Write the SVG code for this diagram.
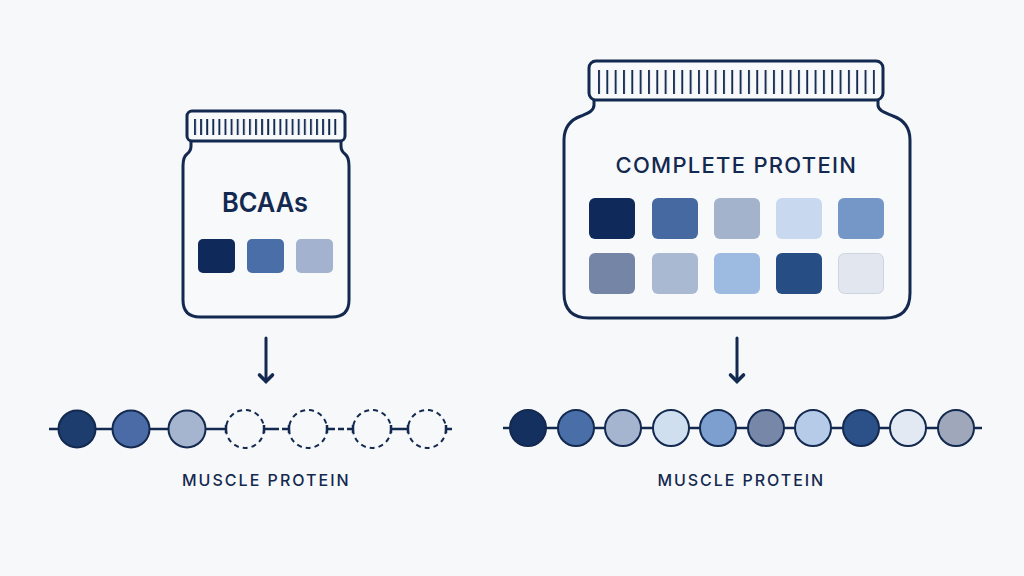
<svg xmlns="http://www.w3.org/2000/svg" width="1024" height="576" viewBox="0 0 1024 576">
<defs>
<style>
.bg{fill:#f7f8fa}
.jar{fill:#f8f9fb;stroke:#13294f;stroke-width:3;stroke-linejoin:round}
.lid{fill:#f8f9fb;stroke:#13294f;stroke-width:3}
.tick{stroke:#13294f;stroke-width:1.9}
.lbl{font-family:Inter,"Noto Sans","Liberation Sans",sans-serif;fill:#13294f}
.chain{stroke:#13294f;stroke-width:2.5;fill:none}
.bead{stroke:#13294f;stroke-width:2}
.ghost{fill:none;stroke:#13294f;stroke-width:2;stroke-dasharray:5 4}
.arrow{stroke:#13294f;stroke-width:3;fill:none;stroke-linecap:round;stroke-linejoin:round}
.head{stroke:#13294f;stroke-width:3.6;fill:none;stroke-linecap:round;stroke-linejoin:miter}
</style>
<pattern id="ticksS" x="194" y="0" width="6.1" height="10" patternUnits="userSpaceOnUse"><line x1="1" y1="0" x2="1" y2="10" class="tick"/></pattern>
<pattern id="ticksL" x="598" y="0" width="8.33" height="10" patternUnits="userSpaceOnUse"><line x1="1" y1="0" x2="1" y2="10" class="tick"/></pattern>
</defs>
<rect class="bg" x="0" y="0" width="1024" height="576"/>

<g id="jar-bcaa">
<path class="jar" d="M191,141 V146 Q191,151 187,154 Q183,157 183,166 V300 Q183,317 200,317 H332 Q349,317 349,300 V166 Q349,157 345,154 Q341,151 341,146 V141"/>
<rect class="lid" x="187" y="111" width="158" height="30" rx="5"/>
<rect x="193" y="119" width="146" height="16" fill="url(#ticksS)"/>
<text class="lbl" x="265" y="212" font-size="27" font-weight="600" text-anchor="middle" textLength="86" lengthAdjust="spacingAndGlyphs">BCAAs</text>
<rect x="198" y="239" width="37" height="34" rx="5" fill="#0f2a5a"/>
<rect x="247" y="239" width="37" height="34" rx="5" fill="#4a6fa8"/>
<rect x="296" y="239" width="37" height="34" rx="5" fill="#a3b3cf"/>
</g>

<g id="jar-complete">
<path class="jar" d="M594,100 V105 C594,111 588,113 581,116 C570,120 564,127 564,140 V293 Q564,318 589,318 H885 Q910,318 910,293 V140 C910,127 904,120 893,116 C886,113 878,111 878,105 V100"/>
<rect class="lid" x="589" y="61" width="294" height="39" rx="7"/>
<rect x="597" y="70" width="278" height="24" fill="url(#ticksL)"/>
<text class="lbl" x="736" y="173" font-size="22" font-weight="500" text-anchor="middle" letter-spacing="0.6" textLength="241" lengthAdjust="spacing">COMPLETE PROTEIN</text>
<rect x="589" y="198" width="46" height="41" rx="6" fill="#0f2a5a"/>
<rect x="652" y="198" width="46" height="41" rx="6" fill="#4569a0"/>
<rect x="714" y="198" width="46" height="41" rx="6" fill="#a3b3cc"/>
<rect x="776" y="198" width="46" height="41" rx="6" fill="#c8d9ef"/>
<rect x="838" y="198" width="46" height="41" rx="6" fill="#7597c8"/>
<rect x="589" y="253" width="46" height="41" rx="6" fill="#7585a6"/>
<rect x="652" y="253" width="46" height="41" rx="6" fill="#a9b9d2"/>
<rect x="714" y="253" width="46" height="41" rx="6" fill="#9dbbe0"/>
<rect x="776" y="253" width="46" height="41" rx="6" fill="#264e85"/>
<rect x="838.5" y="253.5" width="45" height="40" rx="6" fill="#e2e7ef" stroke="#cdd4df" stroke-width="1"/>
</g>

<g id="connectors">
<path class="arrow" d="M266,338 V381"/>
<path class="head" d="M259.5,375 L266,381.5 L272.5,375"/>
<path class="arrow" d="M737,338 V381"/>
<path class="head" d="M730.5,375 L737,381.5 L743.5,375"/>
</g>

<g id="chain-bcaa">
<line class="chain" x1="49" y1="429" x2="226" y2="429"/>
<line class="chain" x1="226" y1="425" x2="226" y2="433"/>
<line class="chain" x1="264" y1="429" x2="289" y2="429" stroke-dasharray="15 3 8"/>
<line class="chain" x1="264" y1="425" x2="264" y2="433"/>
<line class="chain" x1="289" y1="425" x2="289" y2="433"/>
<line class="chain" x1="327" y1="429" x2="353" y2="429" stroke-dasharray="8 3 6 3 8"/>
<line class="chain" x1="327" y1="425" x2="327" y2="433"/>
<line class="chain" x1="353" y1="425" x2="353" y2="433"/>
<line class="chain" x1="391" y1="429" x2="408" y2="429"/>
<line class="chain" x1="391" y1="425" x2="391" y2="433"/>
<line class="chain" x1="408" y1="425" x2="408" y2="433"/>
<line class="chain" x1="446" y1="429" x2="452" y2="429"/>
<line class="chain" x1="446" y1="425" x2="446" y2="433"/>
<circle class="bead" cx="77" cy="429" r="18.5" fill="#1c3d6e"/>
<circle class="bead" cx="131" cy="429" r="18.5" fill="#4a6ba5"/>
<circle class="bead" cx="187" cy="429" r="18.5" fill="#a5b5d0"/>
<circle class="ghost" cx="245" cy="429" r="19"/>
<circle class="ghost" cx="308" cy="429" r="19"/>
<circle class="ghost" cx="372" cy="429" r="19"/>
<circle class="ghost" cx="427" cy="429" r="19"/>
<text class="lbl" x="266" y="486" font-size="16" font-weight="500" text-anchor="middle" letter-spacing="1.3" textLength="168" lengthAdjust="spacing">MUSCLE PROTEIN</text>
</g>

<g id="chain-complete">
<line class="chain" x1="503" y1="428" x2="982" y2="428"/>
<circle class="bead" cx="528" cy="428" r="18" fill="#14305f"/>
<circle class="bead" cx="576" cy="428" r="18" fill="#4a6fa8"/>
<circle class="bead" cx="623" cy="428" r="18" fill="#a5b5cf"/>
<circle class="bead" cx="671" cy="428" r="18" fill="#cfdff0"/>
<circle class="bead" cx="718" cy="428" r="18" fill="#7d9fcf"/>
<circle class="bead" cx="766" cy="428" r="18" fill="#7787a8"/>
<circle class="bead" cx="813" cy="428" r="18" fill="#b5cbe8"/>
<circle class="bead" cx="861" cy="428" r="18" fill="#2c5088"/>
<circle class="bead" cx="908" cy="428" r="18" fill="#e2e9f3"/>
<circle class="bead" cx="956" cy="428" r="18" fill="#9ea8ba"/>
<text class="lbl" x="741" y="486" font-size="16" font-weight="500" text-anchor="middle" letter-spacing="1.3" textLength="167" lengthAdjust="spacing">MUSCLE PROTEIN</text>
</g>
</svg>
